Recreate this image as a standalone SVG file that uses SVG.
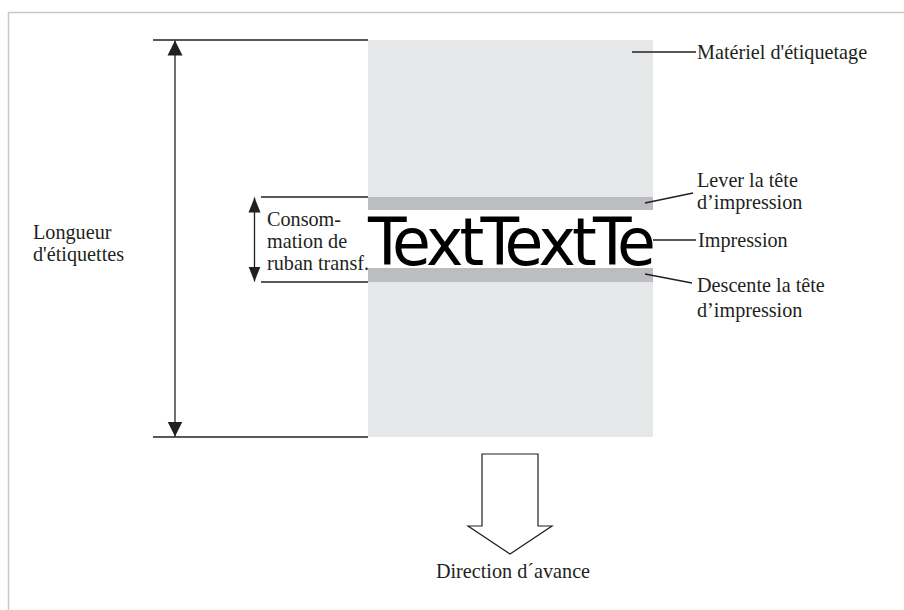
<svg xmlns="http://www.w3.org/2000/svg" width="904" height="610" viewBox="0 0 904 610">
  <style>
    .lbl { font-family: "Liberation Serif", "Times New Roman", serif; font-size: 20.2px; fill: #231f20; }
    .ln { stroke: #231f20; stroke-width: 1.3; fill: none; }
    .frame { stroke: #c8c8c8; stroke-width: 1.5; fill: none; }
  </style>
  <defs>
    <marker id="ahBig" markerWidth="16" markerHeight="16" viewBox="0 0 16 16" refX="15" refY="8" orient="auto" markerUnits="userSpaceOnUse">
      <path d="M0,0.5 L15,8 L0,15.5 Z" fill="#231f20"/>
    </marker>
    <marker id="ahSmall" markerWidth="16" markerHeight="14" viewBox="0 0 16 14" refX="15" refY="7" orient="auto" markerUnits="userSpaceOnUse">
      <path d="M0,1 L15,7 L0,13 Z" fill="#231f20"/>
    </marker>
  </defs>

  <rect width="904" height="610" fill="#ffffff"/>
  <!-- page frame -->
  <path class="frame" d="M8.5,610 V12.5 H904"/>

  <!-- label web -->
  <g id="label-web">
    <rect x="368" y="40" width="285" height="397" fill="#e6e7e9"/>
    <rect x="368" y="210" width="285" height="58" fill="#ffffff"/>
    <rect x="368" y="197" width="285" height="13" fill="#bcbdc0"/>
    <rect x="368" y="268" width="285" height="14" fill="#bcbdc0"/>
    <text x="368" y="265" font-family="'DejaVu Sans', Verdana, sans-serif" font-size="66" letter-spacing="-4" fill="#000000" textLength="284" lengthAdjust="spacingAndGlyphs">TextTextTe</text>
  </g>

  <!-- connectors and dimension lines -->
  <g id="connectors">
    <line class="ln" x1="153" y1="40" x2="368" y2="40"/>
    <line class="ln" x1="153" y1="437" x2="368" y2="437"/>
    <line class="ln" x1="175" y1="238" x2="175" y2="40.5" marker-end="url(#ahBig)"/>
    <line class="ln" x1="175" y1="238" x2="175" y2="436.5" marker-end="url(#ahBig)"/>

    <line class="ln" x1="261" y1="197" x2="368" y2="197"/>
    <line class="ln" x1="261" y1="282" x2="368" y2="282"/>
    <line class="ln" x1="254.5" y1="240" x2="254.5" y2="197.5" marker-end="url(#ahSmall)"/>
    <line class="ln" x1="254.5" y1="240" x2="254.5" y2="281.5" marker-end="url(#ahSmall)"/>

    <line class="ln" x1="632" y1="52" x2="696" y2="52"/>
    <line class="ln" x1="645" y1="203" x2="693" y2="193"/>
    <line class="ln" x1="653" y1="240" x2="696" y2="240"/>
    <line class="ln" x1="645" y1="274" x2="692" y2="283"/>
  </g>

  <g id="feed-arrow">
    <path d="M482,454 H538 V526 H552 L510,554 L468,526 H482 Z" fill="#ffffff" stroke="#231f20" stroke-width="1.2"/>
  </g>

  <g id="labels">
    <text class="lbl" x="33" y="239">Longueur</text>
    <text class="lbl" x="33" y="261">d'étiquettes</text>

    <text class="lbl" x="267" y="226">Consom-</text>
    <text class="lbl" x="267" y="248">mation de</text>
    <text class="lbl" x="267" y="270">ruban transf.</text>

    <text class="lbl" x="697" y="59">Matériel d'étiquetage</text>
    <text class="lbl" x="697" y="187">Lever la tête</text>
    <text class="lbl" x="697" y="209">d’impression</text>
    <text class="lbl" x="698" y="247">Impression</text>
    <text class="lbl" x="697" y="292">Descente la tête</text>
    <text class="lbl" x="697" y="317">d’impression</text>

    <text class="lbl" x="513" y="578" text-anchor="middle">Direction d´avance</text>
  </g>
</svg>
